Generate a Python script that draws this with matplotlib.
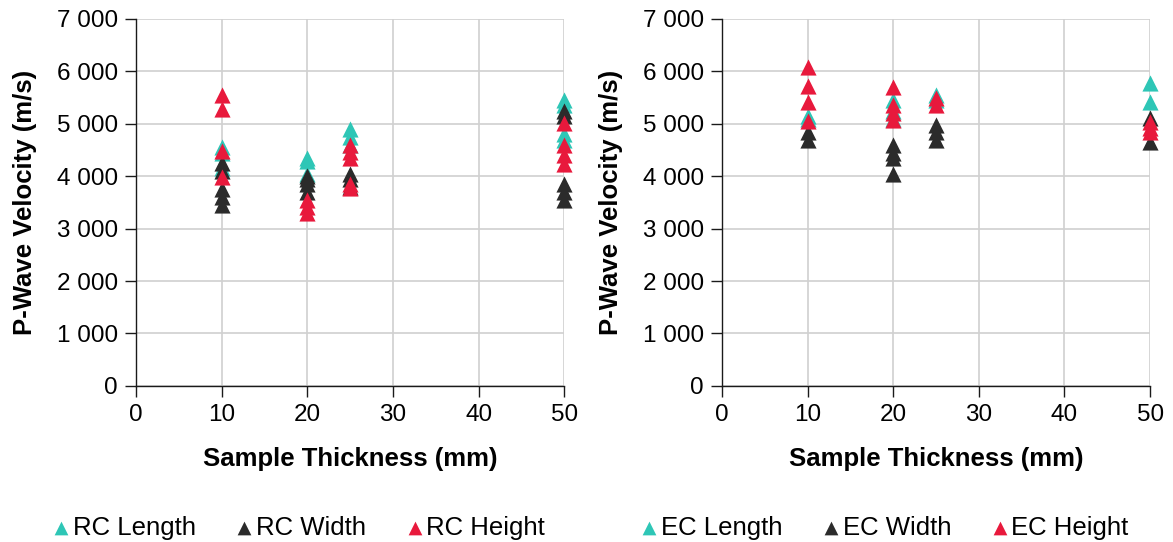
import matplotlib.pyplot as plt
from matplotlib.ticker import FuncFormatter

plt.rcParams['font.family'] = ['Liberation Sans', 'DejaVu Sans']

# colours for the three directions
TEAL = '#2EC6B6'
DARK = '#2B2B2B'
RED = '#E8193C'

# RC panel (thickness mm, velocity m/s)
rc_length_x = [10, 10, 10, 20, 20, 20, 25, 25, 25, 50, 50, 50, 50]
rc_length_y = [4550, 4450, 4150, 4350, 4300, 4050, 4900, 4750, 4600, 5450, 5350, 4800, 4700]
rc_width_x = [10, 10, 10, 10, 10, 20, 20, 20, 20, 25, 25, 25, 50, 50, 50, 50, 50]
rc_width_y = [4250, 4100, 3750, 3600, 3450, 4000, 3950, 3850, 3700, 4050, 3950, 3800,
              5250, 5150, 3850, 3700, 3550]
rc_height_x = [10, 10, 10, 10, 20, 20, 20, 25, 25, 25, 25, 25, 50, 50, 50, 50]
rc_height_y = [5550, 5280, 4480, 3980, 3550, 3420, 3300, 4600, 4470, 4350, 3850, 3780,
               5020, 4600, 4400, 4230]

# EC panel
ec_length_x = [10, 10, 20, 20, 20, 25, 25, 50, 50]
ec_length_y = [5150, 5100, 5450, 5250, 5100, 5550, 5450, 5780, 5420]
ec_width_x = [10, 10, 20, 20, 20, 20, 25, 25, 25, 50, 50]
ec_width_y = [4850, 4700, 4600, 4450, 4350, 4050, 4980, 4850, 4700, 5110, 4650]
ec_height_x = [10, 10, 10, 10, 20, 20, 20, 20, 25, 25, 50, 50, 50]
ec_height_y = [6080, 5720, 5420, 5060, 5700, 5360, 5200, 5070, 5500, 5360, 5040, 4920, 4850]

panels = [
    ('RC', [(rc_length_x, rc_length_y), (rc_width_x, rc_width_y), (rc_height_x, rc_height_y)]),
    ('EC', [(ec_length_x, ec_length_y), (ec_width_x, ec_width_y), (ec_height_x, ec_height_y)]),
]
names = ['Length', 'Width', 'Height']
colors = [TEAL, DARK, RED]


def thousands(v, pos):
    return f'{int(v):,}'.replace(',', ' ')


fig = plt.figure(figsize=(11.73, 5.42), dpi=100)
lefts = [0.116, 0.6155]

for left, (prefix, series) in zip(lefts, panels):
    ax = fig.add_axes([left, 0.288, 0.365, 0.677])
    for (xs, ys), name, c in zip(series, names, colors):
        ax.scatter(xs, ys, marker='^', s=135, color=c, linewidths=0,
                   label=f'{prefix} {name}', zorder=3, clip_on=False)
    ax.set_xlim(0, 50)
    ax.set_ylim(0, 7000)
    ax.set_xticks(range(0, 51, 10))
    ax.set_yticks(range(0, 7001, 1000))
    ax.yaxis.set_major_formatter(FuncFormatter(thousands))
    ax.grid(True, color='#D0D0D0', linewidth=1.2)
    ax.set_axisbelow(True)
    for s in ['top', 'right']:
        ax.spines[s].set_visible(False)
    for s in ['left', 'bottom']:
        ax.spines[s].set_color('#1A1A1A')
        ax.spines[s].set_linewidth(1.0)
    ax.tick_params(axis='both', labelsize=17.5, color='#1A1A1A', length=8, width=1.0, pad=5)
    ax.set_xlabel('Sample Thickness (mm)', fontsize=18.5, fontweight='bold')
    ax.set_ylabel('P-Wave Velocity (m/s)', fontsize=18.5, fontweight='bold')
    ax.xaxis.set_label_coords(0.5, -0.166)
    ax.yaxis.set_label_coords(-0.232, 0.5)
    ax.legend(loc='center', bbox_to_anchor=(0.372, -0.386), ncol=3, frameon=False,
              fontsize=18.5, markerscale=0.85, handletextpad=-0.15, columnspacing=1.3,
              handlelength=1.2, borderaxespad=0)

fig.savefig('out.png', dpi=100)
